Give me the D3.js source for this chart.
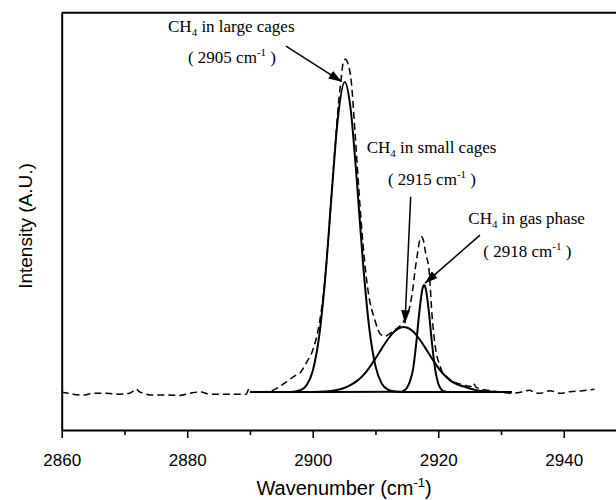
<!DOCTYPE html>
<html>
<head>
<meta charset="utf-8">
<script src="https://cdn.jsdelivr.net/npm/d3@7"></script>
<style>
  html, body { margin: 0; padding: 0; background: #fff; }
  svg { display: block; }
</style>
</head>
<body>
<svg id="chart" width="616" height="500"></svg>
<script>
// ---------------- data ----------------
const xTickValues = [2860, 2880, 2900, 2920, 2940];
const xMinorTickValues = [2870, 2890, 2910, 2930, 2950];
const xLimits = [2860, 2950];
const yLimits = [-12.26, 122.35];

// measured spectrum (dashed)
const measuredWavenumber = [2860.0, 2861.0, 2861.8, 2863.4, 2865.0, 2867.1, 2869.2, 2870.8, 2871.6, 2871.9, 2872.3, 2873.0,
  2874.5, 2876.7, 2878.8, 2880.4, 2882.0, 2883.6, 2885.7, 2887.8, 2889.4, 2889.9, 2890.3, 2891.6, 2893.7, 2895.8,
  2897.4, 2897.9, 2899.0, 2900.0, 2901.1, 2901.9, 2902.4, 2903.0, 2903.6, 2904.1, 2904.57, 2904.83, 2905.2, 2905.6,
  2906.17, 2906.6, 2907.0, 2907.5, 2908.0, 2908.8, 2909.9, 2910.9, 2911.6, 2912.3, 2913.1, 2914.0, 2914.8, 2915.46,
  2916.0, 2916.25, 2916.7, 2917.05, 2917.32, 2917.6, 2918.0, 2918.53, 2919.07, 2919.7, 2920.24, 2920.5, 2921.2,
  2922.0, 2923.0, 2924.0, 2925.2, 2925.6, 2926.0, 2926.6, 2927.7, 2929.0, 2930.5, 2931.7, 2933.5, 2934.6, 2935.2,
  2936.2, 2937.8, 2939.4, 2941.0, 2943.0, 2944.9];
const measuredIntensity = [-0.1, -0.4, -0.7, -1.0, -0.4, -0.4, -0.7, -0.4, 0.6, 1.0, 0.2, -0.4,
  -1.0, -1.0, -1.1, -0.4, 0.0, -0.7, -0.7, -0.7, -0.7, 1.2, -0.1, -0.1, 0.6, 3.3,
  5.5, 6.0, 9.5, 13.5, 22.7, 35.1, 46.9, 64, 80, 93, 101.7, 106, 107.3, 106,
  99.6, 88, 76, 61, 48, 32.9, 23.2, 18.4, 18.0, 18.9, 20.0, 21.5, 24, 27.5,
  34, 38.3, 44.7, 49, 50.1, 49.2, 44.7, 39.4, 23.2, 12.5, 8.7, 7.1, 5.2,
  3.8, 2.8, 2.3, 1.8, 2.8, 1.6, 1.0, 0.6, 0.2, -0.2, -0.4, 0.1, 0.6, -0.1,
  -0.4, 0.4, -0.4, 0.1, 0.4, 0.9];

// fitted component: CH4 in large cages
const largeWavenumber = [2890, 2896, 2897, 2898, 2899, 2900, 2901, 2902, 2903, 2904, 2905.1, 2906, 2907, 2908, 2909,
  2910, 2911, 2912, 2913, 2914, 2915, 2931.7];
const largeIntensity = [0, 0.01, 0.11, 0.55, 2.1, 6.8, 17.6, 37.0, 63.4, 88.2, 100, 92.0, 68.9, 41.9, 20.8,
  8.4, 2.7, 0.73, 0.16, 0.03, 0, 0];

// fitted component: CH4 in small cages
const smallWavenumber = [2890, 2898, 2900, 2902, 2904, 2905, 2906, 2907, 2908, 2909, 2910, 2911, 2912, 2913, 2914,
  2914.5, 2915, 2916, 2917, 2918, 2919, 2920, 2921, 2922, 2923, 2924, 2925, 2926, 2927, 2928, 2930, 2931.7];
const smallIntensity = [0, 0.003, 0.02, 0.12, 0.7, 1.3, 2.2, 3.5, 5.3, 7.8, 10.8, 14.0, 17.1, 19.5, 20.8,
  21.0, 20.8, 19.5, 17.1, 14.0, 10.8, 7.8, 5.4, 3.6, 2.5, 1.8, 1.1, 0.6, 0.3, 0.15, 0.03, 0];

// fitted component: CH4 in gas phase
const gasWavenumber = [2890, 2914, 2914.5, 2915, 2915.5, 2916, 2916.5, 2917, 2917.5, 2917.75, 2918, 2918.5, 2919,
  2919.5, 2920, 2920.5, 2921, 2921.5, 2922, 2931.7];
const gasIntensity = [0, 0.05, 0.4, 1.3, 3.5, 7.47, 15.8, 26.0, 33.4, 34.5, 33.4, 26.0, 15.8,
  7.47, 2.75, 0.79, 0.18, 0.03, 0, 0];

// annotations
const labelNames = ["large cages", "small cages", "gas phase"];
const labelCenters = [2905, 2915, 2918];
const labelTextWn = [2876.94, 2908.6, 2924.8];
const labelTextInt = [116.2, 77.0, 54.1];
const labelSubWn = [2880.12, 2911.99, 2927.19];
const labelSubInt = [106.0, 66.8, 43.6];
const arrowStartWn = [2895.74, 2915.61, 2926.65];
const arrowStartInt = [111.6, 63.0, 50.6];
const arrowTipWn = [2904.6, 2914.70, 2917.89];
const arrowTipInt = [100.1, 22.2, 35.1];

// ---------------- layout ----------------
const svg = d3.select("#chart");
const mLeft = 61.7, mRight = 626.5, mTop = 12.7, mBottom = 430;

const x = d3.scaleLinear().domain(xLimits).range([mLeft, mRight]);
const y = d3.scaleLinear().domain(yLimits).range([mBottom, mTop]);

const sans = "'Liberation Sans', Arial, sans-serif";
const serif = "'Liberation Serif', 'Times New Roman', serif";

// arrow marker
svg.append("defs").append("marker")
  .attr("id", "arrowhead")
  .attr("viewBox", "0 0 13 9")
  .attr("refX", 13).attr("refY", 4.5)
  .attr("markerWidth", 13).attr("markerHeight", 9)
  .attr("markerUnits", "userSpaceOnUse")
  .attr("orient", "auto")
  .append("path").attr("d", "M0,0 L13,4.5 L0,9 Z").attr("fill", "#000");

// top frame line
svg.append("line")
  .attr("x1", mLeft).attr("x2", mRight)
  .attr("y1", mTop).attr("y2", mTop)
  .attr("stroke", "#000").attr("stroke-width", 2);

// bottom axis (major)
const xAxis = svg.append("g")
  .attr("transform", `translate(0,${mBottom})`)
  .call(d3.axisBottom(x).tickValues(xTickValues).tickSize(8).tickSizeOuter(0).tickPadding(16)
    .tickFormat(d3.format("d")));
xAxis.select(".domain").attr("stroke-width", 2).attr("stroke", "#000");
xAxis.selectAll(".tick line").attr("stroke-width", 1.6).attr("stroke", "#000");
xAxis.selectAll("text").attr("font-family", sans).attr("font-size", 17).attr("fill", "#000");

// minor ticks
const xMinor = svg.append("g")
  .attr("transform", `translate(0,${mBottom})`)
  .call(d3.axisBottom(x).tickValues(xMinorTickValues).tickSize(5).tickSizeOuter(0).tickFormat(""));
xMinor.select(".domain").remove();
xMinor.selectAll(".tick line").attr("stroke-width", 1.6).attr("stroke", "#000");

// left axis (no ticks)
const yAxis = svg.append("g")
  .attr("transform", `translate(${mLeft},0)`)
  .call(d3.axisLeft(y).tickValues([]).tickSizeOuter(0));
yAxis.select(".domain").attr("stroke-width", 2).attr("stroke", "#000");

// axis titles
const xt = svg.append("text")
  .attr("x", (mLeft + mRight) / 2).attr("y", 495)
  .attr("text-anchor", "middle")
  .attr("font-family", sans).attr("font-size", 20).attr("fill", "#000");
xt.append("tspan").text("Wavenumber (cm");
xt.append("tspan").attr("font-size", 13).attr("dy", -8).text("-1");
xt.append("tspan").attr("dy", 8).text(")");

svg.append("text")
  .attr("transform", `translate(32,226) rotate(-90)`)
  .attr("text-anchor", "middle")
  .attr("font-family", sans).attr("font-size", 19).attr("fill", "#000")
  .text("Intensity (A.U.)");

// ---------------- curves ----------------
const line = d3.line().x(d => x(d[0])).y(d => y(d[1])).curve(d3.curveMonotoneX);
const zip = (a, b) => a.map((v, i) => [v, b[i]]);

const plot = svg.append("g");

plot.append("path")
  .datum(zip(measuredWavenumber, measuredIntensity))
  .attr("d", line)
  .attr("fill", "none").attr("stroke", "#000").attr("stroke-width", 1.5)
  .attr("stroke-dasharray", "7,4");

[[largeWavenumber, largeIntensity], [smallWavenumber, smallIntensity], [gasWavenumber, gasIntensity]]
  .forEach(([w, v]) => {
    plot.append("path")
      .datum(zip(w, v))
      .attr("d", line)
      .attr("fill", "none").attr("stroke", "#000").attr("stroke-width", 2)
      .attr("stroke-linejoin", "round");
  });

// ---------------- annotations ----------------
labelNames.forEach((name, i) => {
  const t = svg.append("text")
    .attr("x", x(labelTextWn[i])).attr("y", y(labelTextInt[i]))
    .attr("font-family", serif).attr("font-size", 17).attr("fill", "#000");
  t.append("tspan").text("CH");
  t.append("tspan").attr("font-size", 11).attr("dy", 4).text("4");
  t.append("tspan").attr("dy", -4).text(" in " + name);

  const s = svg.append("text")
    .attr("x", x(labelSubWn[i])).attr("y", y(labelSubInt[i]))
    .attr("font-family", serif).attr("font-size", 17).attr("fill", "#000");
  s.append("tspan").text("( " + labelCenters[i] + " cm");
  s.append("tspan").attr("font-size", 11).attr("dy", -7).text("-1");
  s.append("tspan").attr("dy", 7).text(" )");

  svg.append("line")
    .attr("x1", x(arrowStartWn[i])).attr("y1", y(arrowStartInt[i]))
    .attr("x2", x(arrowTipWn[i])).attr("y2", y(arrowTipInt[i]))
    .attr("stroke", "#000").attr("stroke-width", 1.5)
    .attr("marker-end", "url(#arrowhead)");
});
</script>
</body>
</html>
